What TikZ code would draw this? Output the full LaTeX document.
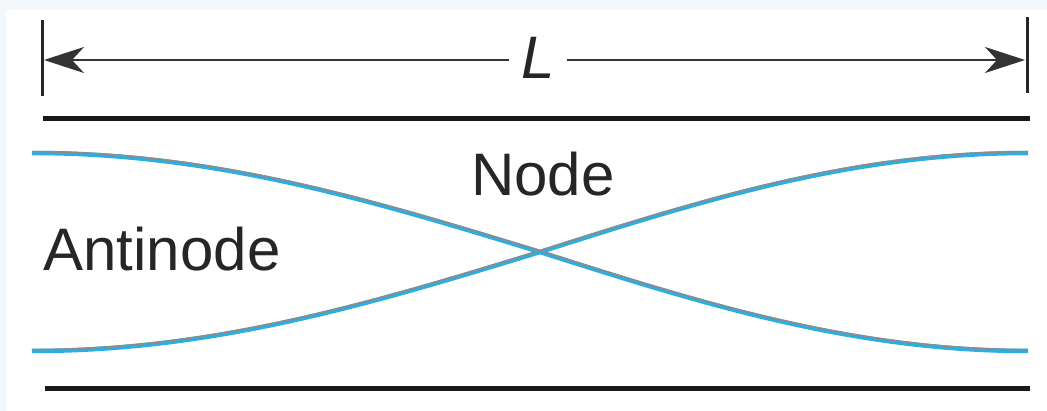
\documentclass[tikz,border=0pt]{standalone}
\usepackage{fontspec}
\setmainfont{Liberation Sans}
\usetikzlibrary{arrows.meta}
\definecolor{tint}{HTML}{F2F8FC}
\definecolor{wave}{HTML}{2AAEE4}
\definecolor{wavegray}{HTML}{8C8C8C}
\tikzset{
  tick/.style={line width=3pt, black!85},
  bar/.style={line width=5pt, black!90},
  dimarrow/.style={line width=2pt, black!80, -{Stealth[length=40pt,width=26pt,inset=12pt]}},
  wavecyan/.style={line width=4.5pt, wave},
  wavegrey/.style={line width=1.6pt, wavegray},
  lbl/.style={inner sep=0pt, font=\fontsize{60}{72}\selectfont, text=black!85}
}
\begin{document}
\begin{tikzpicture}[x=1pt,y=-1pt]
  \fill[tint] (0,0) rectangle (1047,411);
  \fill[white] (6,10) rectangle (1047,411);
  \useasboundingbox (0,0) rectangle (1047,411);
  % ticks
  \draw[tick] (42,20) -- (42,96);
  \draw[tick] (1027,17) -- (1027,93);
  % dimension
  \coordinate (lt) at (44,60);
  \coordinate (rt) at (1025,60);
  \node[lbl, minimum width=58pt, font=\fontsize{60}{72}\selectfont\itshape] (L) at (538,58) {L};
  \draw[dimarrow] (L.west |- lt) -- (lt);
  \draw[dimarrow] (L.east |- rt) -- (rt);
  % bars
  \draw[bar] (43,119) -- (1030,119);
  \draw[bar] (45,389) -- (1030,389);
  % waves (node at x=540)
  \foreach \s/\c/\o in {1/wavecyan/0, -1/wavecyan/0, 1/wavegrey/-1.4, -1/wavegrey/-1.4}{
    \draw[\c] plot[domain=32:540, samples=70] (\x, {252+\o-\s*99*cos(0.177165*(\x-32))})
              -- plot[domain=540:1028, samples=70] (\x, {252+\o-\s*99*cos(90+0.184426*(\x-540))});
  }
  % labels
  \node[lbl] (node) at (543,174) {Node};
  \node[lbl] (antinode) at (162,249) {Antinode};
\end{tikzpicture}
\end{document}
